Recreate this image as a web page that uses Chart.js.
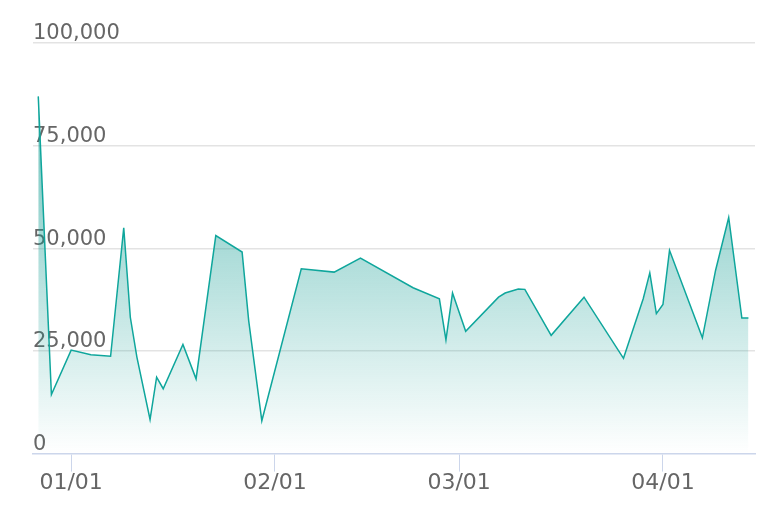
<!DOCTYPE html>
<html>
<head>
<meta charset="utf-8">
<script src="https://cdn.jsdelivr.net/npm/chart.js@4/dist/chart.umd.min.js"></script>
<style>
  body { margin: 0; background: #fff; }
</style>
</head>
<body>
<canvas id="trend" width="772" height="528"></canvas>
<script>
// data
var dates = [
    "2018-12-27", "2018-12-29", "2019-01-01", "2019-01-04", "2019-01-07", "2019-01-09",
    "2019-01-10", "2019-01-11", "2019-01-13", "2019-01-14", "2019-01-15", "2019-01-18",
    "2019-01-20", "2019-01-23", "2019-01-27", "2019-01-28", "2019-01-30", "2019-02-05",
    "2019-02-10", "2019-02-14", "2019-02-22", "2019-02-26", "2019-02-27", "2019-02-28",
    "2019-03-02", "2019-03-07", "2019-03-08", "2019-03-10", "2019-03-11", "2019-03-15",
    "2019-03-20", "2019-03-26", "2019-03-29", "2019-03-30", "2019-03-31", "2019-04-01",
    "2019-04-02", "2019-04-07", "2019-04-09", "2019-04-11", "2019-04-13", "2019-04-14"
];
var values = [
    87000, 14400, 25200, 24100, 23700, 55000,
    33200, 23500, 8300, 18600, 15800, 26600,
    18200, 53100, 49100, 32400, 8000, 45000,
    44200, 47600, 40400, 37700, 27700, 39100,
    29800, 38100, 39100, 40100, 40000, 28800,
    38100, 23200, 37700, 44000, 34100, 36300,
    49500, 28200, 44600, 57500, 33000, 33000
];
var tickDates = ["2019-01-01", "2019-02-01", "2019-03-01", "2019-04-01"];
var tickLabels = ["01/01", "02/01", "03/01", "04/01"];
var yTicks = [0, 25000, 50000, 75000, 100000];

// days counted from 01/01
var origin = Date.parse("2019-01-01");
function dayOf(d) {
    return (Date.parse(d) - origin) / 86400000;
}

var points = dates.map(function (d, i) {
    return { x: dayOf(d), y: values[i] };
});
var tickDays = tickDates.map(dayOf);

var teal = "#0fa69c";

var trend = new Chart("trend", {
    type: "line",
    data: {
        datasets: [{
            data: points,
            borderColor: teal,
            borderWidth: 1.5,
            pointRadius: 0,
            tension: 0,
            fill: "origin",
            backgroundColor: function (ctx) {
                var area = ctx.chart.chartArea;
                if (!area) return "rgba(15,166,156,0.3)";
                var g = ctx.chart.ctx.createLinearGradient(0, area.top + 50, 0, area.bottom);
                g.addColorStop(0, "rgba(15,155,145,0.62)");
                g.addColorStop(1, "rgba(15,155,145,0.0)");
                return g;
            }
        }]
    },
    options: {
        responsive: false,
        devicePixelRatio: 1,
        animation: false,
        layout: {
            padding: { left: 33, right: 17, top: 43, bottom: 34 }
        },
        plugins: {
            legend: { display: false },
            tooltip: { enabled: false }
        },
        scales: {
            x: {
                type: "linear",
                min: -5.8,
                max: 104,
                afterBuildTicks: function (scale) {
                    scale.ticks = tickDays.map(function (v) { return { value: v }; });
                },
                grid: {
                    drawOnChartArea: false,
                    drawTicks: true,
                    tickLength: 18,
                    color: "#ccd6eb"
                },
                border: { color: "#ccd6eb", width: 1.5 },
                ticks: {
                    autoSkip: false,
                    maxRotation: 0,
                    padding: -2,
                    color: "#666",
                    font: { family: "DejaVu Sans", size: 22 },
                    callback: function (v, i) { return tickLabels[i]; }
                }
            },
            y: {
                min: 0,
                max: 100000,
                afterBuildTicks: function (scale) {
                    scale.ticks = yTicks.map(function (v) { return { value: v }; });
                },
                border: { display: false },
                grid: {
                    drawTicks: false,
                    lineWidth: 1.5,
                    color: function (ctx) {
                        return ctx.tick && ctx.tick.value === 0 ? "rgba(0,0,0,0)" : "#e3e3e3";
                    }
                },
                ticks: {
                    mirror: true,
                    padding: 0,
                    labelOffset: -9,
                    color: "#666",
                    font: { family: "DejaVu Sans", size: 21 },
                    callback: function (v) { return v.toLocaleString("en-US"); }
                }
            }
        }
    }
});
</script>
</body>
</html>
